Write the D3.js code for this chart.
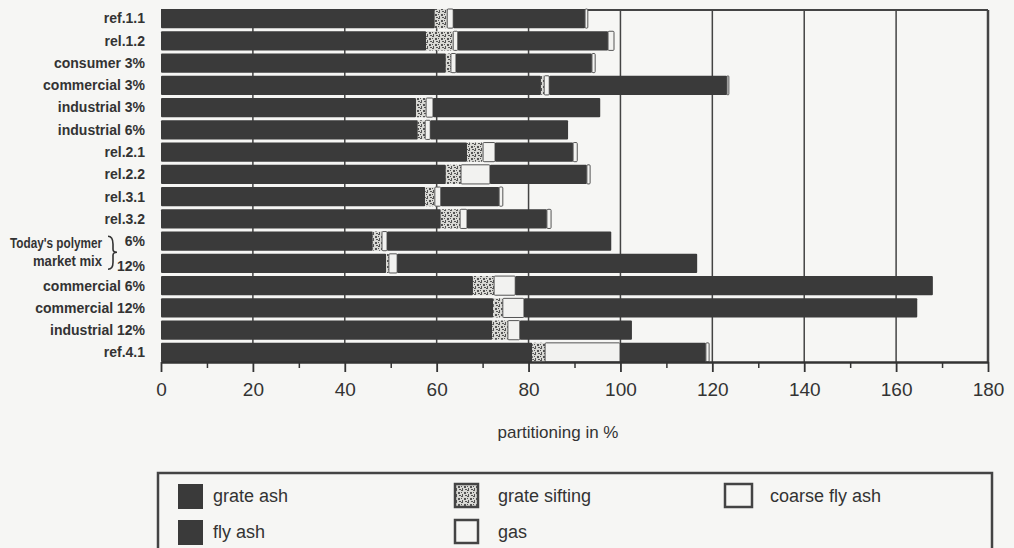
<!DOCTYPE html>
<html>
<head>
<meta charset="utf-8">
<script src="https://cdn.jsdelivr.net/npm/d3@7"></script>
<style>
  body { margin: 0; background: #f6f6f4; }
  svg { display: block; font-family: "Liberation Sans", Arial, sans-serif; }
</style>
</head>
<body>
<div class="main_content"></div>
<script>
// categories top to bottom
const categories = ['ref.1.1', 'rel.1.2', 'consumer 3%', 'commercial 3%', 'industrial 3%', 'industrial 6%',
    'rel.2.1', 'rel.2.2', 'rel.3.1', 'rel.3.2', 'mix 6%', 'mix 12%',
    'commercial 6%', 'commercial 12%', 'industrial 12%', 'ref.4.1'];
const rowLabels = ['ref.1.1', 'rel.1.2', 'consumer 3%', 'commercial 3%', 'industrial 3%', 'industrial 6%',
    'rel.2.1', 'rel.2.2', 'rel.3.1', 'rel.3.2', '6%', '12%',
    'commercial 6%', 'commercial 12%', 'industrial 12%', 'ref.4.1'];

// partitioning in %
const grateAsh     = [59.6, 57.7, 62.0, 82.7, 55.5, 55.9, 66.6, 62.0, 57.5, 60.9, 46.1, 49.0, 67.9, 72.3, 72.1, 80.8];
const grateSifting = [2.7, 5.9, 1.1, 0.7, 2.2, 1.6, 3.5, 3.3, 2.1, 4.2, 2.0, 0.6, 4.6, 2.1, 3.4, 2.8];
const coarseFlyAsh = [1.3, 1.0, 1.1, 1.1, 1.5, 1.1, 2.6, 6.3, 1.3, 1.5, 1.1, 1.8, 4.6, 4.6, 2.6, 16.3];
const flyAsh       = [28.7, 32.7, 29.6, 38.7, 36.4, 30.0, 17.0, 21.1, 12.7, 17.4, 48.8, 65.3, 90.9, 85.6, 24.4, 18.7];
const gas          = [0.6, 1.3, 0.7, 0.4, 0, 0, 0.9, 0.7, 0.8, 0.9, 0, 0, 0, 0, 0, 0.7];

const xTicks = [0, 20, 40, 60, 80, 100, 120, 140, 160, 180];
const xMinorTicks = [10, 30, 50, 70, 90, 110, 130, 150, 170];

const legendItems = [
    {key: 'grateAsh', label: 'grate ash'},
    {key: 'flyAsh', label: 'fly ash'},
    {key: 'grateSifting', label: 'grate sifting'},
    {key: 'gas', label: 'gas'},
    {key: 'coarseFlyAsh', label: 'coarse fly ash'}
];

const dark = '#3a3a3a';
const ink = '#333';

let svg = d3.select('.main_content').append('svg')
    .attr('width', 1014)
    .attr('height', 548);

// hatched fill for grate sifting
let defs = svg.append('defs');
let pat = defs.append('pattern')
    .attr('id', 'sift')
    .attr('patternUnits', 'userSpaceOnUse')
    .attr('width', 6)
    .attr('height', 6);
pat.append('rect').attr('width', 6).attr('height', 6).attr('fill', '#d8d8d4');
[[0, 0, 2, 1], [3, 2, 2, 2], [1, 4, 1, 2], [4, 5, 2, 1], [0, 2, 1, 1]].forEach(d => {
    pat.append('rect').attr('x', d[0]).attr('y', d[1]).attr('width', d[2]).attr('height', d[3]).attr('fill', '#555');
});

const fills = {
    grateAsh: dark,
    grateSifting: 'url(#sift)',
    coarseFlyAsh: '#f2f2f0',
    flyAsh: dark,
    gas: '#f2f2f0'
};

let x = d3.scaleLinear().domain([0, 180]).range([161, 988]);
let y = d3.scaleBand().domain(categories).range([9, 362]).paddingInner(0.14).paddingOuter(0);

// grid lines and frame
svg.append('g').selectAll('line')
    .data(xTicks.slice(1))
    .join('line')
    .attr('x1', d => x(d)).attr('x2', d => x(d))
    .attr('y1', 10).attr('y2', 362)
    .attr('stroke', '#444')
    .attr('stroke-width', d => d === 180 ? 2.5 : 1.5);
svg.append('line')
    .attr('x1', x(0)).attr('x2', x(180))
    .attr('y1', 10).attr('y2', 10)
    .attr('stroke', '#444').attr('stroke-width', 2);

// stacked bars
let rows = categories.map((c, i) => ({
    cat: c,
    grateAsh: grateAsh[i],
    grateSifting: grateSifting[i],
    coarseFlyAsh: coarseFlyAsh[i],
    flyAsh: flyAsh[i],
    gas: gas[i]
}));
let stack = d3.stack().keys(['grateAsh', 'grateSifting', 'coarseFlyAsh', 'flyAsh', 'gas']);
let series = stack(rows);

svg.append('g').selectAll('g')
    .data(series)
    .join('g')
    .attr('fill', d => fills[d.key])
    .attr('stroke', d => (d.key === 'coarseFlyAsh' || d.key === 'gas') ? '#555' : 'none')
    .attr('stroke-width', 1)
    .selectAll('rect')
    .data(d => d.filter(s => s[1] - s[0] > 0))
    .join('rect')
    .attr('x', d => x(d[0]))
    .attr('y', d => y(d.data.cat))
    .attr('width', d => x(d[1]) - x(d[0]))
    .attr('height', y.bandwidth())
    .attr('rx', 1);

// x axis
let axis = svg.append('g')
    .attr('transform', 'translate(0,362)')
    .call(d3.axisBottom(x).tickValues(xTicks).tickSize(10).tickPadding(11).tickSizeOuter(0));
axis.select('.domain').attr('stroke', '#333').attr('stroke-width', 2.5);
axis.selectAll('.tick line').attr('stroke', '#333').attr('stroke-width', 1.8);
axis.selectAll('.tick text').attr('fill', ink).style('font-size', '19px');
svg.append('g')
    .attr('transform', 'translate(0,362)')
    .call(d3.axisBottom(x).tickValues(xMinorTicks).tickSize(6).tickFormat('').tickSizeOuter(0))
    .call(g => g.select('.domain').remove())
    .selectAll('.tick line').attr('stroke', '#333').attr('stroke-width', 1.5);

svg.append('text')
    .attr('x', 558).attr('y', 438)
    .attr('text-anchor', 'middle')
    .attr('fill', ink)
    .style('font-size', '17px')
    .text('partitioning in %');

// category labels
svg.append('g').selectAll('text')
    .data(categories)
    .join('text')
    .attr('x', 145)
    .attr('y', (d, i) => y(d) + y.bandwidth() / 2 + (i === 11 ? 3 : 0))
    .attr('dy', '0.35em')
    .attr('text-anchor', 'end')
    .attr('fill', ink)
    .style('font-size', '14px')
    .style('font-weight', 'bold')
    .text((d, i) => rowLabels[i]);

// group label with brace
let yMid = (y('mix 6%') + y('mix 12%') + y.bandwidth()) / 2;
svg.append('text')
    .attr('x', 102).attr('y', yMid - 9)
    .attr('dy', '0.35em')
    .attr('text-anchor', 'end').attr('fill', ink)
    .attr('textLength', 92).attr('lengthAdjust', 'spacingAndGlyphs')
    .style('font-size', '14px').style('font-weight', 'bold')
    .text("Today's polymer");
svg.append('text')
    .attr('x', 102).attr('y', yMid + 9)
    .attr('dy', '0.35em')
    .attr('text-anchor', 'end').attr('fill', ink)
    .attr('textLength', 69).attr('lengthAdjust', 'spacingAndGlyphs')
    .style('font-size', '14px').style('font-weight', 'bold')
    .text('market mix');
svg.append('path')
    .attr('d', `M108,${yMid - 16} Q113,${yMid - 16} 113,${yMid - 8} L113,${yMid - 3} Q113,${yMid} 117,${yMid}
                Q113,${yMid} 113,${yMid + 3} L113,${yMid + 10} Q113,${yMid + 17} 108,${yMid + 17}`)
    .attr('fill', 'none').attr('stroke', ink).attr('stroke-width', 1.6);

// legend
svg.append('rect')
    .attr('x', 158).attr('y', 473)
    .attr('width', 834).attr('height', 90)
    .attr('fill', 'none').attr('stroke', '#444').attr('stroke-width', 2.5);

const legendCols = [178, 455, 725];
const legendTextDx = [35, 43, 45];
let leg = svg.append('g').selectAll('g')
    .data(legendItems)
    .join('g')
    .attr('transform', (d, i) => `translate(${legendCols[Math.floor(i / 2)]},${i % 2 === 0 ? 484 : 520})`);
leg.append('rect')
    .attr('x', 0).attr('y', 0)
    .attr('width', (d, i) => i < 2 ? 25 : (i === 4 ? 27 : 23))
    .attr('height', (d, i) => i < 2 ? 25 : 23)
    .attr('fill', d => d.key === 'grateSifting' ? 'url(#sift)' : (d.key === 'grateAsh' || d.key === 'flyAsh' ? dark : '#f6f6f4'))
    .attr('stroke', d => (d.key === 'grateAsh' || d.key === 'flyAsh') ? 'none' : '#444')
    .attr('stroke-width', 2.5);
leg.append('text')
    .attr('x', (d, i) => legendTextDx[Math.floor(i / 2)])
    .attr('y', 18)
    .attr('fill', ink)
    .style('font-size', '18px')
    .text(d => d.label);
</script>
</body>
</html>
